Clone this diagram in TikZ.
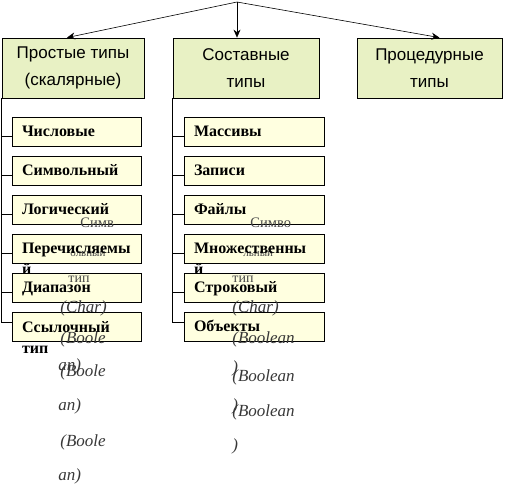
\documentclass[tikz,border=0pt]{standalone}
\usepackage{fontspec}
\setmainfont{Liberation Serif}
\newfontfamily\headfont{Liberation Sans}
\usetikzlibrary{arrows.meta}
\definecolor{headfill}{RGB}{232,241,196}
\definecolor{subfill}{RGB}{255,255,224}

\begin{document}
\begin{tikzpicture}[x=1pt,y=-1pt,line width=0.8pt,
	headbox/.style={draw,fill=headfill,minimum height=60pt,inner sep=0pt,align=center,font=\headfont\fontsize{17}{27}\selectfont},
	subbox/.style={draw,fill=subfill,minimum height=29pt,inner sep=0pt},
	subtext/.style={inner sep=0pt,align=left,font=\bfseries\fontsize{16}{21}\selectfont},
	ghost/.style={inner sep=0pt,anchor=base west,text=black!72},
	ghostit/.style={inner sep=0pt,anchor=base west,text=black!78,font=\itshape\fontsize{17}{17}\selectfont},
	arr/.style={-{Stealth[length=8pt,width=7pt]},line width=0.6pt}]
	\useasboundingbox (0,0) rectangle (509,483);
	\coordinate (top) at (237,2);
	\node[headbox,minimum width=142pt] (simple) at (73,68) {Простые типы\\(скалярные)};
	\node[headbox,minimum width=146pt] (comp) at (246,68) {Составные\\типы};
	\node[headbox,minimum width=145pt] (proc) at (429.5,68) {Процедурные\\типы};
	\draw[arr] (top) -- ([xshift=-6]simple.north);
	\draw[arr] (top) -- ([xshift=-9]comp.north);
	\draw[arr] (top) -- ([xshift=10]proc.north);
	\foreach \n / \y in {l1/131.5,l2/170.5,l3/209.5,l4/248.5,l5/287.5,l6/326.5} \node[subbox,minimum width=129pt] (\n) at (76.5,\y) {};
	\foreach \n / \y in {m1/131.5,m2/170.5,m3/209.5,m4/248.5,m5/287.5,m6/326.5} \node[subbox,minimum width=140pt] (\n) at (254,\y) {};
	\draw (simple.south west) |- ([yshift=4]l6.west);
	\draw (comp.south west) |- ([yshift=4]m6.west);
	\foreach \n in {l1,l2,l3,l4,l5} \draw ([yshift=-5]\n.west) -- ([yshift=-5]\n.west -| simple.west);
	\foreach \n in {m1,m2,m3,m4,m5} \draw ([yshift=-5]\n.west) -- ([yshift=-5]\n.west -| comp.west);
	\node[ghost,font=\fontsize{14.5}{14}\selectfont] (g1) at (80,227) {Симв};
	\node[ghost,font=\fontsize{11}{11}\selectfont] (g2) at (70,256) {ольный};
	\node[ghost,font=\fontsize{14}{14}\selectfont] (g3) at (68,282) {тип};
	\node[ghostit] (g4) at (60,312) {(Char)};
	\node[ghostit] (g5) at (60,343) {(Boole};
	\node[ghostit] (g6) at (58,370) {an)};
	\node[ghostit] (g7) at (60,376) {(Boole};
	\node[ghostit] (g8) at (58,410) {an)};
	\node[ghostit] (g9) at (60,446) {(Boole};
	\node[ghostit] (g10) at (58,480) {an)};
	\node[ghost,font=\fontsize{14.5}{14}\selectfont] (h1) at (250,227) {Симво};
	\node[ghost,font=\fontsize{11}{11}\selectfont] (h2) at (243,256) {льный};
	\node[ghost,font=\fontsize{14}{14}\selectfont] (h3) at (232,282) {тип};
	\node[ghostit] (h4) at (232,312) {(Char)};
	\node[ghostit] (h5) at (232,343) {(Boolean};
	\node[ghostit] (h6) at (232,372) {)};
	\node[ghostit] (h7) at (232,381) {(Boolean};
	\node[ghostit] (h8) at (232,410) {)};
	\node[ghostit] (h9) at (232,416) {(Boolean};
	\node[ghostit] (h10) at (232,450) {)};
	\foreach \n / \t / \d in {l1/Числовые/0,l2/Символьный/0,l3/Логический/0,l4/{Перечисляемы\\й}/21,l5/Диапазон/0,l6/{Ссылочный\\тип}/22} \node[subtext,anchor=base west] (t\n) at ([xshift=10,yshift=-4.5-\d]\n.west) {\t};
	\foreach \n / \t / \d in {m1/Массивы/0,m2/Записи/0,m3/Файлы/0,m4/{Множественны\\й}/21,m5/Строковый/0,m6/Объекты/0} \node[subtext,anchor=base west] (t\n) at ([xshift=10,yshift=-4.5-\d]\n.west) {\t};
\end{tikzpicture}
\end{document}
